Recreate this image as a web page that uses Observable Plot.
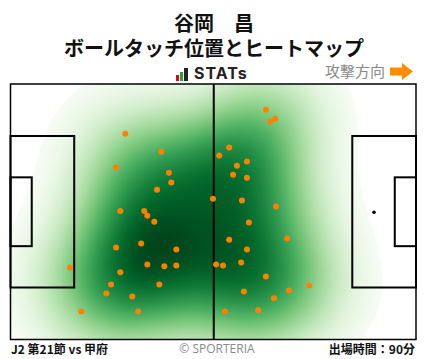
<!DOCTYPE html>
<html><head><meta charset="utf-8">
<script src="https://cdn.jsdelivr.net/npm/d3@7"></script>
<script src="https://cdn.jsdelivr.net/npm/@observablehq/plot@0.6"></script>
<style>
body{margin:0;background:#fff;font-family:"Noto Sans CJK JP","Noto Sans",sans-serif;}
#wrap{position:relative;width:428px;height:359px;overflow:hidden;background:#fff;}
.title{position:absolute;left:0;top:10px;width:428px;text-align:center;font-weight:700;font-size:20px;color:#111;line-height:25px;white-space:nowrap;}
#stats{position:absolute;left:176px;top:64px;height:17px;display:flex;align-items:flex-end;}
#stats .bar{display:inline-block;margin-right:1px;}
#stats .txt{font-family:Inter,"Noto Sans",sans-serif;font-weight:700;font-size:16px;line-height:16px;color:#222;margin-left:5px;letter-spacing:1px;}
#dir{position:absolute;left:325px;top:62px;font-size:15px;line-height:18px;color:#8a8a8a;white-space:nowrap;display:flex;align-items:center;}
#dir svg{margin-left:5px;}
#chart{position:absolute;left:0;top:80px;}
.foot{position:absolute;top:341px;font-size:12px;line-height:16px;white-space:nowrap;}
</style>
</head><body>
<div id="wrap">
  <div class="title">谷岡　昌<br>ボールタッチ位置とヒートマップ</div>
  <div id="stats"><span class="bar" style="width:3px;height:6px;background:#e60012"></span><span class="bar" style="width:3px;height:9px;background:#1fa33a"></span><span class="bar" style="width:4px;height:13px;background:#222"></span><span class="txt">STATs</span></div>
  <div id="dir">攻撃方向<svg width="24" height="17" viewBox="0 0 24 17"><polygon points="0,4.5 12,4.5 12,0 23,8.5 12,17 12,12.5 0,12.5" fill="#ff8c00"/></svg></div>
  <div id="chart"></div>
  <div class="foot" style="left:11px;font-weight:700;color:#111">J2 第21節 vs 甲府</div>
  <div class="foot" style="left:0;width:434px;text-align:center;color:#8a8a8a;font-family:'Open Sans','Noto Sans',sans-serif;">© SPORTERIA</div>
  <div class="foot" style="right:13px;font-weight:700;color:#111">出場時間：90分</div>
</div>
<script>
// Pitch dimensions (metres)
const pitchLength = 105, pitchWidth = 68;
const penaltyDepth = 16.5, penaltyWidth = 40.32;
const goalAreaDepth = 5.5, goalAreaWidth = 18.32;
const penaltySpotDist = 11;

// Ball touch positions (x: metres from own goal line, y: metres from top touchline)
const touchX = [29.6,38.9,27.2,40.9,41.5,37.8,
  66.0,68.4,67.1,56.5,53.9,61.1,58.5,57.5,61.1,52.3,59.8,68.6,
  28.3,34.5,35.3,37.1,27.2,33.7,42.8,15.3,35.3,39.7,42.8,28.3,25.9,38.4,24.7,31.4,18.2,32.9,
  61.6,56.5,71.5,61.1,53.1,54.9,59.6,66.0,60.3,72.0,77.2,68.1,55.4,64.0];
const touchY = [13.1,17.9,22.1,23.5,26.1,28.0,
  6.7,9.1,9.9,16.8,18.9,20.5,21.6,24.0,24.8,30.4,30.9,32.5,
  33.7,33.7,34.9,36.5,43.4,42.3,43.9,48.7,47.9,48.4,48.2,50.0,53.2,53.2,55.6,56.4,60.4,60.4,
  36.7,41.3,41.0,43.9,47.9,48.2,47.4,51.1,55.1,54.8,53.5,56.9,60.4,60.1];

const touches = touchX.map((x, i) => ({x, y: touchY[i]}));

// Gaussian KDE (Scott's rule) from the touches
const n = touches.length;
const bwAdjust = 1.3;
const factor = Math.pow(n, -1/6) * bwAdjust;
const hx = d3.deviation(touchX) * factor, hy = d3.deviation(touchY) * factor;
function density(x, y) {
  let s = 0;
  for (const t of touches) {
    const dx = (x - t.x) / hx, dy = (y - t.y) / hy;
    s += Math.exp(-0.5 * (dx * dx + dy * dy));
  }
  return s / n;
}
let dmax = 0;
for (let gx = 0; gx <= pitchLength; gx += 0.5) for (let gy = 0; gy <= pitchWidth; gy += 0.5) dmax = Math.max(dmax, density(gx, gy));
const thresh = dmax * 0.035;

const boxes = [
  {x1: 0, x2: penaltyDepth, y1: (pitchWidth - penaltyWidth) / 2, y2: (pitchWidth + penaltyWidth) / 2},
  {x1: pitchLength - penaltyDepth, x2: pitchLength, y1: (pitchWidth - penaltyWidth) / 2, y2: (pitchWidth + penaltyWidth) / 2},
  {x1: 0, x2: goalAreaDepth, y1: (pitchWidth - goalAreaWidth) / 2, y2: (pitchWidth + goalAreaWidth) / 2},
  {x1: pitchLength - goalAreaDepth, x2: pitchLength, y1: (pitchWidth - goalAreaWidth) / 2, y2: (pitchWidth + goalAreaWidth) / 2}
];

const plot = Plot.plot({
  width: 428, height: 264,
  marginLeft: 10.5, marginRight: 12, marginTop: 4, marginBottom: 4.5,
  x: {domain: [0, pitchLength], axis: null},
  y: {domain: [0, pitchWidth], reverse: true, axis: null},
  color: {type: "pow", exponent: 0.75, scheme: "greens", domain: [thresh, dmax]},
  marks: [
    Plot.raster({
      fill: (x, y) => Math.max(thresh, density(x, y)),
      fillOpacity: (x, y) => density(x, y) < thresh ? 0 : 1,
      x1: 0, x2: pitchLength, y1: 0, y2: pitchWidth, pixelSize: 1
    }),
    Plot.rect(boxes, {x1: "x1", x2: "x2", y1: "y1", y2: "y2", fill: "none", stroke: "#000", strokeWidth: 2}),
    Plot.ruleX([pitchLength / 2], {stroke: "#000", strokeWidth: 2}),
    Plot.rect([{x1: 0, x2: pitchLength, y1: 0, y2: pitchWidth}], {x1: "x1", x2: "x2", y1: "y1", y2: "y2", fill: "none", stroke: "#000", strokeWidth: 1.5}),
    Plot.dot([{x: pitchLength - penaltySpotDist, y: pitchWidth / 2}], {x: "x", y: "y", r: 1.8, fill: "#000"}),
    Plot.dot(touches, {x: "x", y: "y", r: 3, fill: "#ff8000"})
  ]
});
document.getElementById("chart").appendChild(plot);
</script>
</body></html>
